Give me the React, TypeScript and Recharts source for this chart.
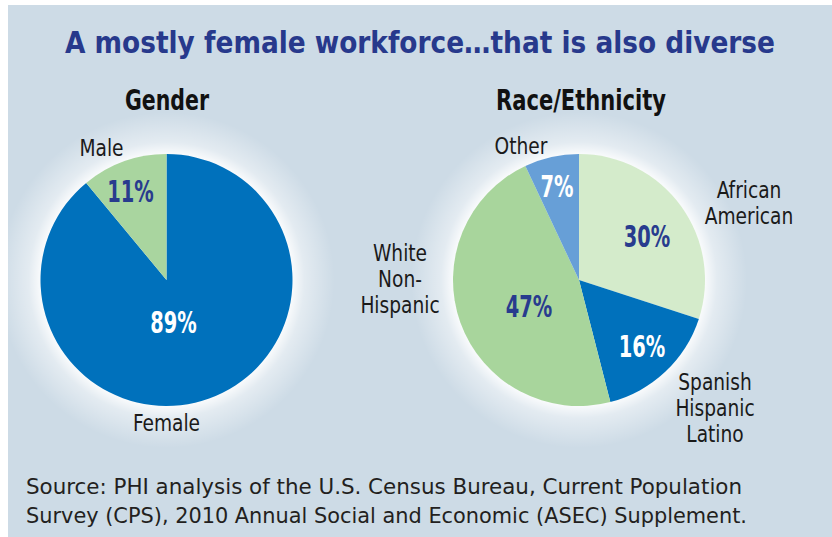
import React from 'react';
import { PieChart, Pie, Cell } from 'recharts';

// Gender split
const genderNames = ['Female', 'Male'];
const genderValues = [89, 11];
const genderLabelLines = [['Female'], ['Male']];

// Race / ethnicity split, clockwise from 12 o'clock
const raceNames = ['African American', 'Spanish Hispanic Latino', 'White Non-Hispanic', 'Other'];
const raceValues = [30, 16, 47, 7];
const raceLabelLines = [['African', 'American'], ['Spanish', 'Hispanic', 'Latino'], ['White', 'Non-', 'Hispanic'], ['Other']];

const genderData = genderNames.map((name, i) => ({ name, value: genderValues[i] }));
const raceData = raceNames.map((name, i) => ({ name, value: raceValues[i] }));

const BLUE = '#0071bc';
const NAVY = '#283b8e';
const genderColors = [BLUE, '#a9d59f'];
const genderValueColors = ['#ffffff', NAVY];
const raceColors = ['#d4ebcb', BLUE, '#a8d59c', '#679fd7'];
const raceValueColors = [NAVY, '#ffffff', NAVY, '#ffffff'];

// label placement relative to the pie centre (px)
const genderValuePos = [{ dx: 7, dy: 43 }, { dx: -36, dy: -88 }];
const genderNamePos = [{ dx: 0, dy: 143 }, { dx: -65, dy: -132 }];
const raceValuePos = [{ dx: 68, dy: -43 }, { dx: 63, dy: 67 }, { dx: -50, dy: 27 }, { dx: -22, dy: -93 }];
const raceNamePos = [{ dx: 170, dy: -90 }, { dx: 136, dy: 102 }, { dx: -179, dy: -27 }, { dx: -58, dy: -134 }];

const FONT = "'Liberation Sans Narrow', 'DejaVu Sans Condensed', 'Roboto', sans-serif";
const LINE_H = 26;

function makeLabel(
  valuePos: { dx: number; dy: number }[],
  namePos: { dx: number; dy: number }[],
  valueColors: string[],
  lines: string[][],
) {
  return (props: any) => {
    const { cx, cy, index, value } = props;
    const v = valuePos[index];
    const n = namePos[index];
    return (
      <g>
        <g transform={`translate(${cx + v.dx},${cy + v.dy}) scale(0.72,1)`}>
          <text
            x={0}
            y={0}
            textAnchor="middle"
            dominantBaseline="central"
            fill={valueColors[index]}
            fontFamily={FONT}
            fontWeight="bold"
            fontSize={30}
          >
            {`${value}%`}
          </text>
        </g>
        {lines[index].map((line, li) => (
          <g key={li} transform={`translate(${cx + n.dx},${cy + n.dy + li * LINE_H}) scale(0.88,1)`}>
            <text
              x={0}
              y={0}
              textAnchor="middle"
              dominantBaseline="central"
              fill="#1a1a1a"
              fontFamily={FONT}
              fontSize={23.5}
            >
              {line}
            </text>
          </g>
        ))}
      </g>
    );
  };
}

export default function App() {
  const bg = '#cddbe6';
  const glow = (x: number, y: number) =>
    `radial-gradient(circle at ${x}px ${y}px, rgba(255,255,255,0.95) 0, rgba(255,255,255,0.95) 124px, rgba(255,255,255,0.45) 138px, rgba(255,255,255,0) 168px)`;

  return (
    <div style={{ position: 'absolute', left: 0, top: 0, width: 832, height: 537, background: '#ffffff', overflow: 'hidden' }}>
      <div
        style={{
          position: 'absolute',
          left: 8,
          top: 5,
          width: 824,
          height: 532,
          backgroundColor: bg,
          backgroundImage: `${glow(158.5, 275)}, ${glow(571, 275)}`,
        }}
      />
      <svg width={832} height={537} style={{ position: 'absolute', left: 0, top: 0 }}>
        <text x={65} y={53} textLength={710} lengthAdjust="spacingAndGlyphs" fill="#27398c" fontFamily={FONT} fontWeight="bold" fontSize={31}>
          A mostly female workforce…that is also diverse
        </text>
        <text x={125} y={110} textLength={84} lengthAdjust="spacingAndGlyphs" fill="#111111" fontFamily={FONT} fontWeight="bold" fontSize={28}>
          Gender
        </text>
        <text x={496} y={110} textLength={170} lengthAdjust="spacingAndGlyphs" fill="#111111" fontFamily={FONT} fontWeight="bold" fontSize={28}>
          Race/Ethnicity
        </text>
        <text x={26} y={494} textLength={716} lengthAdjust="spacingAndGlyphs" fill="#231f20" fontFamily={FONT} fontSize={22}>
          Source: PHI analysis of the U.S. Census Bureau, Current Population
        </text>
        <text x={26} y={523} textLength={721} lengthAdjust="spacingAndGlyphs" fill="#231f20" fontFamily={FONT} fontSize={22}>
          Survey (CPS), 2010 Annual Social and Economic (ASEC) Supplement.
        </text>
      </svg>
      <div style={{ position: 'absolute', left: 0, top: 0 }}>
        <PieChart width={832} height={537} margin={{ top: 0, right: 0, bottom: 0, left: 0 }}>
          <Pie
            data={genderData}
            dataKey="value"
            nameKey="name"
            cx={166.5}
            cy={280}
            outerRadius={126}
            startAngle={90}
            endAngle={-270}
            stroke="none"
            labelLine={false}
            label={makeLabel(genderValuePos, genderNamePos, genderValueColors, genderLabelLines)}
            isAnimationActive={false}
          >
            {genderData.map((d, i) => (
              <Cell key={d.name} fill={genderColors[i]} />
            ))}
          </Pie>
          <Pie
            data={raceData}
            dataKey="value"
            nameKey="name"
            cx={579}
            cy={280}
            outerRadius={126}
            startAngle={90}
            endAngle={-270}
            stroke="none"
            labelLine={false}
            label={makeLabel(raceValuePos, raceNamePos, raceValueColors, raceLabelLines)}
            isAnimationActive={false}
          >
            {raceData.map((d, i) => (
              <Cell key={d.name} fill={raceColors[i]} />
            ))}
          </Pie>
        </PieChart>
      </div>
    </div>
  );
}
